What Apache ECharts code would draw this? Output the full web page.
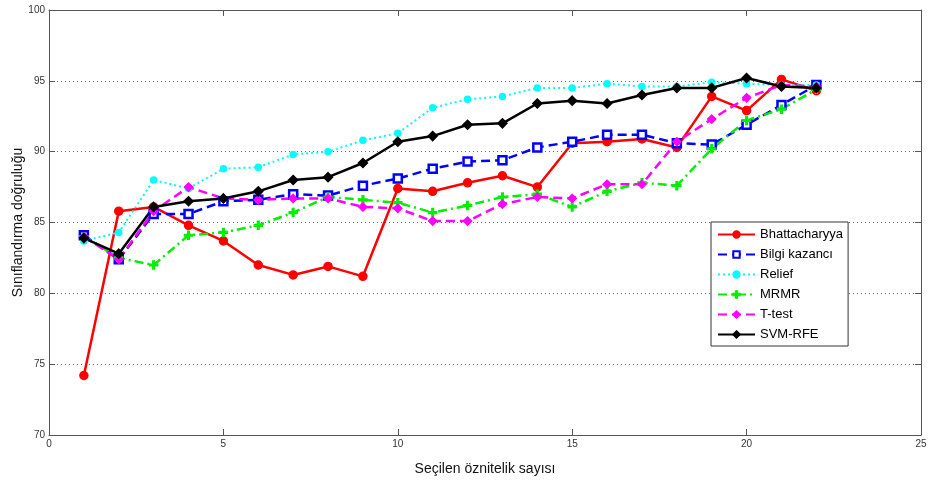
<!DOCTYPE html>
<html><head><meta charset="utf-8">
<script src="https://cdn.jsdelivr.net/npm/echarts@6/dist/echarts.min.js"></script>
<style>html,body{margin:0;padding:0;background:#fff}#c{width:930px;height:480px}</style>
</head><body><div id="c"></div>
<script>
var xValues = [1,2,3,4,5,6,7,8,9,10,11,12,13,14,15,16,17,18,19,20,21,22];
var bhattacharyya = [74.2,85.8,86.1,84.8,83.7,82.0,81.3,81.9,81.2,87.4,87.2,87.8,88.3,87.5,90.6,90.7,90.9,90.3,93.9,92.9,95.1,94.3];
var bilgiKazanci = [84.1,82.4,85.6,85.6,86.5,86.6,87.0,86.9,87.6,88.1,88.8,89.3,89.4,90.3,90.7,91.2,91.2,90.6,90.5,91.9,93.3,94.7];
var relief = [83.7,84.3,88.0,87.4,88.8,88.9,89.8,90.0,90.8,91.3,93.1,93.7,93.9,94.5,94.5,94.8,94.6,94.6,94.9,94.8,94.7,94.7];
var mrmr = [84.0,82.5,82.0,84.1,84.3,84.8,85.7,86.8,86.6,86.4,85.7,86.2,86.8,87.0,86.1,87.2,87.8,87.6,90.2,92.2,93.0,94.4];
var ttest = [84.0,82.4,85.8,87.5,86.7,86.6,86.7,86.7,86.1,86.0,85.1,85.1,86.3,86.8,86.7,87.7,87.7,90.7,92.3,93.8,94.7,94.6];
var svmrfe = [83.9,82.8,86.1,86.5,86.7,87.2,88.0,88.2,89.2,90.7,91.1,91.9,92.0,93.4,93.6,93.4,94.0,94.5,94.5,95.2,94.6,94.5];
var seriesNames = ['Bhattacharyya','Bilgi kazancı','Relief','MRMR','T-test','SVM-RFE'];
var xTicks = [0,5,10,15,20,25];
var yTicks = [70,75,80,85,90,95,100];

function pairs(arr){ return arr.map(function(v,i){ return [xValues[i], v]; }); }
var plusPath = 'path://M4,0 L6,0 L6,4 L10,4 L10,6 L6,6 L6,10 L4,10 L4,6 L0,6 L0,4 L4,4 Z';

var chart = echarts.init(document.getElementById('c'), null, {renderer:'canvas'});
var axisCol = '#555';
var font = 'Liberation Sans, Arial, sans-serif';
function mk(name, data, color, lineType, width, symbol, size, extra){
  var s = {
    name: name, type: 'line', data: pairs(data), xAxisIndex:0, yAxisIndex:0,
    symbol: symbol, symbolSize: size, showSymbol: true,
    lineStyle: {color: color, width: width, type: lineType},
    itemStyle: {color: color, borderColor: color, borderWidth: 1.5},
    emphasis: {disabled: true}, animation: false
  };
  if (extra) for (var k in extra) s[k] = extra[k];
  return s;
}
chart.setOption({
  animation: false,
  backgroundColor: '#fff',
  grid: {left: 49, right: 9, top: 10, bottom: 45, show: false, containLabel: false, outerBoundsMode: 'none'},
  xAxis: [{
    type: 'value', min: 0, max: 25, interval: 5, position: 'bottom',
    name: 'Seçilen öznitelik sayısı', nameLocation: 'middle', nameGap: 27,
    nameTextStyle: {fontSize: 14, color: '#111', fontFamily: font},
    axisLine: {show: true, onZero: false, lineStyle: {color: axisCol, width: 1}},
    axisTick: {show: true, inside: true, length: 6, lineStyle: {color: axisCol}},
    axisLabel: {fontSize: 10, color: '#333', margin: 4, fontFamily: font},
    splitLine: {show: false}
  },{
    type: 'value', min: 0, max: 25, interval: 5, position: 'top',
    axisLine: {show: true, onZero: false, lineStyle: {color: axisCol, width: 1}},
    axisTick: {show: true, inside: true, length: 6, lineStyle: {color: axisCol}},
    axisLabel: {show: false}, splitLine: {show: false}
  }],
  yAxis: [{
    type: 'value', min: 70, max: 100, interval: 5, position: 'left',
    name: 'Sınıflandırma doğruluğu', nameLocation: 'middle', nameGap: 24, nameRotate: 90,
    nameMoveOverlap: false,
    nameTextStyle: {fontSize: 14, color: '#111', fontFamily: font},
    axisLine: {show: true, onZero: false, lineStyle: {color: axisCol, width: 1}},
    axisTick: {show: true, inside: true, length: 6, lineStyle: {color: axisCol}},
    axisLabel: {fontSize: 10, color: '#333', margin: 4, fontFamily: font},
    splitLine: {show: true, lineStyle: {color: '#666', type: [1,3], width: 1}}
  },{
    type: 'value', min: 70, max: 100, interval: 5, position: 'right',
    axisLine: {show: true, onZero: false, lineStyle: {color: axisCol, width: 1}},
    axisTick: {show: true, inside: true, length: 6, lineStyle: {color: axisCol}},
    axisLabel: {show: false}, splitLine: {show: false}
  }],
  legend: {
    show: true, orient: 'vertical', left: 711, top: 222,
    data: seriesNames,
    itemWidth: 37, itemHeight: 8, itemGap: 7, itemTextGap: 6,
    padding: [6, 5, 5, 6],
    borderColor: '#333', borderWidth: 1, backgroundColor: '#fff',
    textStyle: {fontSize: 13, color: '#000', fontFamily: font},
    selectedMode: false
  },
  series: [
    mk(seriesNames[0], bhattacharyya, '#ff0000', 'solid', 2.5, 'circle', 8),
    mk(seriesNames[1], bilgiKazanci, '#0000ff', [9,5], 2.5, 'rect', 8, {itemStyle:{color:'#fff', borderColor:'#0000ff', borderWidth:2.5}}),
    mk(seriesNames[2], relief, '#00ffff', [2,3], 2, 'circle', 6),
    mk(seriesNames[3], mrmr, '#00ee00', [9,4,2,4], 2.5, plusPath, 8),
    mk(seriesNames[4], ttest, '#ff00ff', [9,5], 2.5, 'diamond', 8),
    mk(seriesNames[5], svmrfe, '#000000', 'solid', 2.5, 'diamond', 9)
  ]
});
</script></body></html>
